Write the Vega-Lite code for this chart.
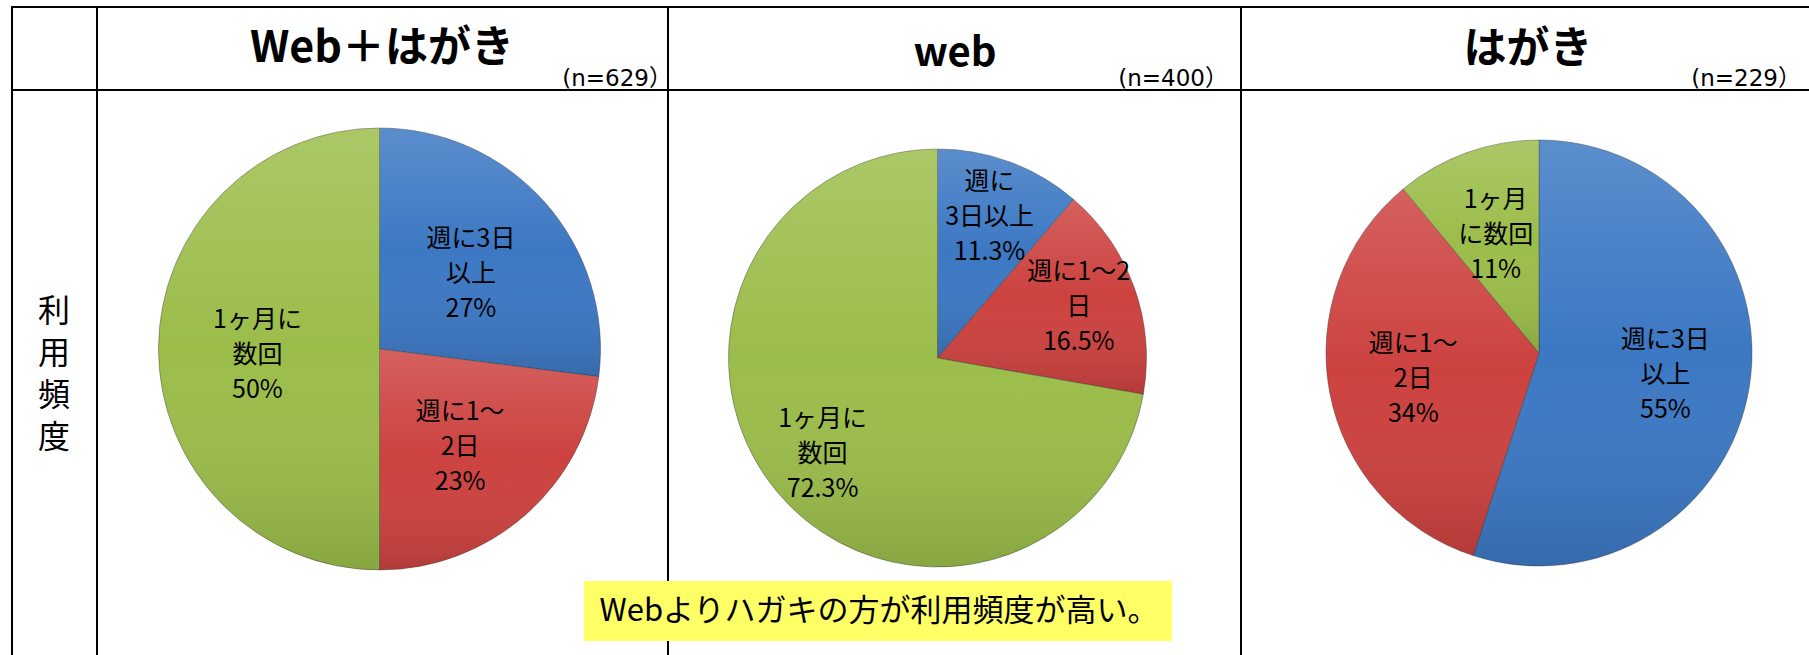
{
  "$schema": "https://vega.github.io/schema/vega-lite/v6.json",
  "background": "white",
  "padding": {"left": 11, "top": 6, "right": 0, "bottom": 0},
  "config": {
    "view": {"stroke": null},
    "concat": {"spacing": 0},
    "font": "Noto Sans CJK JP",
    "text": {"font": "Noto Sans CJK JP", "fill": "#000000"}
  },
  "datasets": {
    "pies": [
      {"panel": "Web＋はがき", "cat": "週に3日以上", "order": 1, "value": 27, "label": "週に3日\n以上\n27%"},
      {"panel": "Web＋はがき", "cat": "週に1～2日", "order": 2, "value": 23, "label": "週に1～\n2日\n23%"},
      {"panel": "Web＋はがき", "cat": "1ヶ月に数回", "order": 3, "value": 50, "label": "1ヶ月に\n数回\n50%"},
      {"panel": "web", "cat": "週に3日以上", "order": 1, "value": 11.3, "label": "週に\n3日以上\n11.3%"},
      {"panel": "web", "cat": "週に1～2日", "order": 2, "value": 16.5, "label": "週に1～2\n日\n16.5%"},
      {"panel": "web", "cat": "1ヶ月に数回", "order": 3, "value": 72.3, "label": "1ヶ月に\n数回\n72.3%"},
      {"panel": "はがき", "cat": "週に3日以上", "order": 1, "value": 55, "label": "週に3日\n以上\n55%"},
      {"panel": "はがき", "cat": "週に1～2日", "order": 2, "value": 34, "label": "週に1～\n2日\n34%"},
      {"panel": "はがき", "cat": "1ヶ月に数回", "order": 3, "value": 11, "label": "1ヶ月\nに数回\n11%"}
    ],
    "heads": [
      {"panel": "Web＋はがき", "n": "(n=629）"},
      {"panel": "web", "n": "(n=400）"},
      {"panel": "はがき", "n": "(n=229）"}
    ],
    "misc": [
      {"rowlabel": "利\n用\n頻\n度", "note": "Webよりハガキの方が利用頻度が高い。"}
    ]
  },
  "bounds": "flush",
  "align": "each",
  "columns": 4,
  "spacing": 0,
  "concat": [
    {
      "width": 85, "height": 83,
      "data": {"name": "misc"},
      "mark": {"type": "rect", "filled": false, "stroke": "#000000", "strokeWidth": 2},
      "encoding": {"x": {"value": 0}, "x2": {"value": "width"}, "y": {"value": 0}, "y2": {"value": "height"}}
    },
    {
      "width": 571, "height": 83,
      "layer": [
        {"data": {"name": "misc"},
         "mark": {"type": "rect", "filled": false, "stroke": "#000000", "strokeWidth": 2},
         "encoding": {"x": {"value": 0}, "x2": {"value": "width"}, "y": {"value": 0}, "y2": {"value": "height"}}},
        {"data": {"name": "heads"},
         "transform": [{"filter": "datum.panel === 'Web＋はがき'"}],
         "layer": [
           {"mark": {"type": "text", "x": 285, "y": 55, "fontSize": 43, "fontWeight": "bold", "align": "center", "baseline": "alphabetic"},
            "encoding": {"text": {"field": "panel"}}},
           {"mark": {"type": "text", "x": 575, "y": 79, "fontSize": 23, "font": "DejaVu Sans, Noto Sans CJK JP", "align": "right", "baseline": "alphabetic"},
            "encoding": {"text": {"field": "n"}}}
         ]}
      ]
    },
    {
      "width": 573, "height": 83,
      "layer": [
        {"data": {"name": "misc"},
         "mark": {"type": "rect", "filled": false, "stroke": "#000000", "strokeWidth": 2},
         "encoding": {"x": {"value": 0}, "x2": {"value": "width"}, "y": {"value": 0}, "y2": {"value": "height"}}},
        {"data": {"name": "heads"},
         "transform": [{"filter": "datum.panel === 'web'"}],
         "layer": [
           {"mark": {"type": "text", "x": 287, "y": 59, "fontSize": 40, "fontWeight": "bold", "align": "center", "baseline": "alphabetic"},
            "encoding": {"text": {"field": "panel"}}},
           {"mark": {"type": "text", "x": 560, "y": 79, "fontSize": 23, "font": "DejaVu Sans, Noto Sans CJK JP", "align": "right", "baseline": "alphabetic"},
            "encoding": {"text": {"field": "n"}}}
         ]}
      ]
    },
    {
      "width": 572, "height": 83,
      "layer": [
        {"data": {"name": "misc"},
         "mark": {"type": "rect", "filled": false, "stroke": "#000000", "strokeWidth": 2},
         "encoding": {"x": {"value": 0}, "x2": {"value": "width"}, "y": {"value": 0}, "y2": {"value": "height"}}},
        {"data": {"name": "heads"},
         "transform": [{"filter": "datum.panel === 'はがき'"}],
         "layer": [
           {"mark": {"type": "text", "x": 287, "y": 43, "fontSize": 43, "fontWeight": "bold", "align": "center", "baseline": "middle"},
            "encoding": {"text": {"field": "panel"}}},
           {"mark": {"type": "text", "x": 560, "y": 79, "fontSize": 23, "font": "DejaVu Sans, Noto Sans CJK JP", "align": "right", "baseline": "alphabetic"},
            "encoding": {"text": {"field": "n"}}}
         ]}
      ]
    },
    {
      "width": 85, "height": 568,
      "data": {"name": "misc"},
      "layer": [
        {"mark": {"type": "rect", "filled": false, "stroke": "#000000", "strokeWidth": 2},
         "encoding": {"x": {"value": 0}, "x2": {"value": "width"}, "y": {"value": 0}, "y2": {"value": "height"}}},
        {"mark": {"type": "text", "x": 42, "y": 222, "fontSize": 32, "lineHeight": 42, "lineBreak": "\n", "align": "center", "baseline": "middle"},
         "encoding": {"text": {"field": "rowlabel"}}}
      ]
    },
    {
      "width": 571, "height": 568,
      "layer": [
        {"data": {"name": "misc"},
         "mark": {"type": "rect", "filled": false, "stroke": "#000000", "strokeWidth": 2},
         "encoding": {"x": {"value": 0}, "x2": {"value": "width"}, "y": {"value": 0}, "y2": {"value": "height"}}},
        {
          "data": {"name": "pies"},
          "transform": [{"filter": "datum.panel === 'Web＋はがき'"}],
          "encoding": {
            "theta": {"field": "value", "type": "quantitative", "stack": true},
            "order": {"field": "order", "type": "ordinal"}
          },
          "layer": [
            {"mark": {"type": "arc", "radius": 221, "xOffset": -3, "yOffset": -25, "stroke": "#333333", "strokeWidth": 0.8, "strokeOpacity": 0.5},
             "encoding": {"color": {"field": "cat", "type": "nominal", "scale": {"domain": ["週に3日以上", "週に1～2日", "1ヶ月に数回"], "range": ["#3c78c3", "#cc423f", "#9bbd4a"]}, "legend": null}}},
            {"mark": {"type": "arc", "radius": 221, "xOffset": -3, "yOffset": -25,
                      "fill": {"gradient": "linear", "x1": 0, "y1": 0, "x2": 0, "y2": 1, "stops": [{"offset": 0, "color": "rgba(255,255,255,0.16)"}, {"offset": 0.5, "color": "rgba(255,255,255,0)"}, {"offset": 1, "color": "rgba(0,0,0,0.12)"}]}}},
            {"mark": {"type": "text", "radius": 122, "xOffset": -3, "yOffset": -25, "dy": -29, "fontSize": 25, "lineHeight": 35, "lineBreak": "\n", "align": "center", "baseline": "middle"},
             "encoding": {"text": {"field": "label"}, "detail": {"field": "cat"}}}
          ]
        }
      ]
    },
    {
      "width": 573, "height": 568,
      "layer": [
        {"data": {"name": "misc"},
         "mark": {"type": "rect", "filled": false, "stroke": "#000000", "strokeWidth": 2},
         "encoding": {"x": {"value": 0}, "x2": {"value": "width"}, "y": {"value": 0}, "y2": {"value": "height"}}},
        {
          "data": {"name": "pies"},
          "transform": [{"filter": "datum.panel === 'web'"}],
          "encoding": {
            "theta": {"field": "value", "type": "quantitative", "stack": true},
            "order": {"field": "order", "type": "ordinal"}
          },
          "layer": [
            {"mark": {"type": "arc", "radius": 209, "xOffset": -17, "yOffset": -16, "stroke": "#333333", "strokeWidth": 0.8, "strokeOpacity": 0.5},
             "encoding": {"color": {"field": "cat", "type": "nominal", "scale": {"domain": ["週に3日以上", "週に1～2日", "1ヶ月に数回"], "range": ["#3c78c3", "#cc423f", "#9bbd4a"]}, "legend": null}}},
            {"mark": {"type": "arc", "radius": 209, "xOffset": -17, "yOffset": -16,
                      "fill": {"gradient": "linear", "x1": 0, "y1": 0, "x2": 0, "y2": 1, "stops": [{"offset": 0, "color": "rgba(255,255,255,0.16)"}, {"offset": 0.5, "color": "rgba(255,255,255,0)"}, {"offset": 1, "color": "rgba(0,0,0,0.12)"}]}}},
            {"mark": {"type": "text", "radius": 150, "xOffset": -17, "yOffset": -16, "dy": -35, "fontSize": 25, "lineHeight": 35, "lineBreak": "\n", "align": "center", "baseline": "middle"},
             "encoding": {"text": {"field": "label"}, "detail": {"field": "cat"}}}
          ]
        },
        {
          "data": {"name": "misc"},
          "layer": [
            {"mark": {"type": "rect", "x": -84, "x2": 504, "y": 491, "y2": 551, "fill": "#ffff66"}, "encoding": {}},
            {"mark": {"type": "text", "x": 211, "y": 522, "fontSize": 31, "align": "center", "baseline": "middle"},
             "encoding": {"text": {"field": "note"}}}
          ]
        }
      ]
    },
    {
      "width": 572, "height": 568,
      "layer": [
        {"data": {"name": "misc"},
         "mark": {"type": "rect", "filled": false, "stroke": "#000000", "strokeWidth": 2},
         "encoding": {"x": {"value": 0}, "x2": {"value": "width"}, "y": {"value": 0}, "y2": {"value": "height"}}},
        {
          "data": {"name": "pies"},
          "transform": [{"filter": "datum.panel === 'はがき'"}],
          "encoding": {
            "theta": {"field": "value", "type": "quantitative", "stack": true},
            "order": {"field": "order", "type": "ordinal"}
          },
          "layer": [
            {"mark": {"type": "arc", "radius": 213, "xOffset": 12, "yOffset": -21, "stroke": "#333333", "strokeWidth": 0.8, "strokeOpacity": 0.5},
             "encoding": {"color": {"field": "cat", "type": "nominal", "scale": {"domain": ["週に3日以上", "週に1～2日", "1ヶ月に数回"], "range": ["#3c78c3", "#cc423f", "#9bbd4a"]}, "legend": null}}},
            {"mark": {"type": "arc", "radius": 213, "xOffset": 12, "yOffset": -21,
                      "fill": {"gradient": "linear", "x1": 0, "y1": 0, "x2": 0, "y2": 1, "stops": [{"offset": 0, "color": "rgba(255,255,255,0.16)"}, {"offset": 0.5, "color": "rgba(255,255,255,0)"}, {"offset": 1, "color": "rgba(0,0,0,0.12)"}]}}},
            {"mark": {"type": "text", "radius": 128, "xOffset": 12, "yOffset": -21, "dy": -33, "fontSize": 25, "lineHeight": 35, "lineBreak": "\n", "align": "center", "baseline": "middle"},
             "encoding": {"text": {"field": "label"}, "detail": {"field": "cat"}}}
          ]
        }
      ]
    }
  ]
}
